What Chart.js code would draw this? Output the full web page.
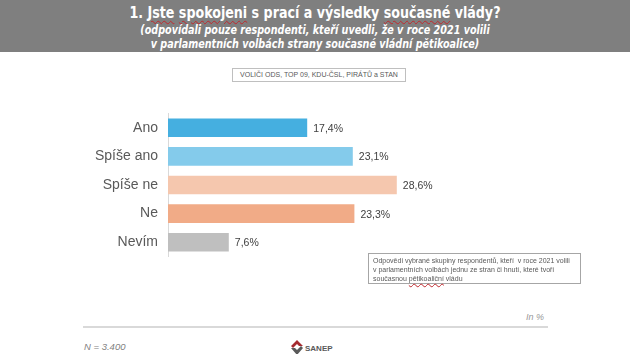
<!DOCTYPE html>
<html lang="cs">
<head>
<meta charset="utf-8">
<script src="https://cdn.jsdelivr.net/npm/chart.js@4.4.0/dist/chart.umd.min.js"></script>
<style>
  body { margin: 0; width: 630px; height: 354px; background: #fff; position: relative; overflow: hidden; font-family: "Liberation Sans", Arial, sans-serif; }
  #hlavicka { position: absolute; left: 0; top: 0; width: 630px; height: 52px; background: #7f7f7f; color: #fff; text-align: center; }
  #titulek { position: absolute; top: 3px; width: 100%; font-family: "DejaVu Sans Condensed", sans-serif; font-weight: bold; font-size: 16px; transform: scaleX(0.88); }
  #podtitulek { position: absolute; top: 23px; width: 100%; font-family: "DejaVu Sans Condensed", sans-serif; font-weight: bold; font-style: italic; font-size: 12px; line-height: 14px; transform: scaleX(0.89); }
  .vlnka { text-decoration: underline wavy #c0282d; text-decoration-thickness: 1px; text-underline-offset: 2px; }
  #volici { position: absolute; left: 232px; top: 68px; width: 172px; height: 12px; border: 1px solid #bfbfbf; font-size: 7px; line-height: 12px; color: #595959; text-align: center; }
  #graf { position: absolute; left: 0; top: 95px; }
  #poznamka { position: absolute; left: 368px; top: 253px; width: 207px; height: 27px; border: 1px solid #a6a6a6; padding: 2px 0 0 4px; font-size: 7px; line-height: 9px; color: #595959; }
  #procenta { position: absolute; left: 526px; top: 312px; font-size: 9px; font-style: italic; color: #999; }
  #cara { position: absolute; left: 83px; top: 326px; width: 465px; height: 2px; background: #d9d9d9; }
  #pocet { position: absolute; left: 84px; top: 341px; font-size: 9.5px; font-style: italic; color: #7f7f7f; }
  #logo { position: absolute; left: 290px; top: 339px; }
</style>
</head>
<body>
<div id="hlavicka">
  <div id="titulek">1. <span class="vlnka">Jste</span> <span class="vlnka">spokojeni</span> s prací a výsledky <span class="vlnka">současné</span> vlády?</div>
  <div id="podtitulek">(odpovídali pouze respondenti, kteří uvedli, že v roce 2021 volili<br>v parlamentních volbách strany současné vládní pětikoalice)</div>
</div>
<div id="volici">VOLIČI ODS, TOP 09, KDU-ČSL, PIRÁTŮ a STAN</div>
<canvas id="graf" width="630" height="180"></canvas>
<div id="poznamka">Odpovědi vybrané skupiny respondentů, kteří&nbsp; v roce 2021 volili<br>v parlamentních volbách jednu ze stran či hnutí, které tvoří<br>současnou <span class="vlnka">pětikoaliční</span> vládu</div>
<div id="procenta">In %</div>
<div id="cara"></div>
<div id="pocet">N = 3.400</div>
<svg id="logo" width="50" height="18" viewBox="0 0 50 18">
  <path d="M7 1 L13 7 L9 7 L7 5 L3 9 L1 7 Z" fill="#a52a2f"/>
  <path d="M1 9 L5 9 L7 11 L11 7 L13 9 L7 16 Z" fill="#5a5a5a"/>
  <text x="15" y="12" font-family="Liberation Sans, Arial" font-weight="bold" font-size="8" fill="#595959">SANEP</text>
</svg>

<script>
// odpovědi a podíly v %
const kategorie = ['Ano', 'Spíše ano', 'Spíše ne', 'Ne', 'Nevím'];
const hodnoty = [17.4, 23.1, 28.6, 23.3, 7.6];
const barvy = ['#45afe0', '#84cbeb', '#f5c7ae', '#f1ab87', '#bfbfbf'];

// popisky na konci sloupců
const popiskyHodnot = {
    id: 'popiskyHodnot',
    afterDatasetsDraw(chart) {
        const ctx = chart.ctx;
        const meta = chart.getDatasetMeta(0);
        ctx.save();
        ctx.font = '10.5px "Liberation Sans", Arial, sans-serif';
        ctx.fillStyle = '#404040';
        ctx.textBaseline = 'middle';
        meta.data.forEach(function (bar, i) {
            let text = hodnoty[i].toFixed(1).replace('.', ',') + '%';
            ctx.fillText(text, bar.x + 6, bar.y + 1);
        });
        ctx.restore();
    }
};

let grafSpokojenost = new Chart(document.getElementById('graf'), {
    type: 'bar',
    data: {
        labels: kategorie,
        datasets: [{
            data: hodnoty,
            backgroundColor: barvy,
            categoryPercentage: 0.65,
            barPercentage: 1
        }]
    },
    options: {
        indexAxis: 'y',
        responsive: false,
        animation: false,
        layout: { padding: { top: 7, bottom: 7, right: 62, left: 0 } },
        plugins: { legend: { display: false }, tooltip: { enabled: false } },
        scales: {
            x: { display: false, min: 0, max: 50 },
            y: {
                afterFit: function (scale) { scale.width = 168; },
                grid: { display: false, drawTicks: false },
                border: { display: true, color: '#d9d9d9', width: 1 },
                ticks: {
                    padding: 10,
                    color: '#595959',
                    font: { family: '"Liberation Sans", Arial, sans-serif', size: 14 }
                }
            }
        }
    },
    plugins: [popiskyHodnot]
});
</script>
</body>
</html>
